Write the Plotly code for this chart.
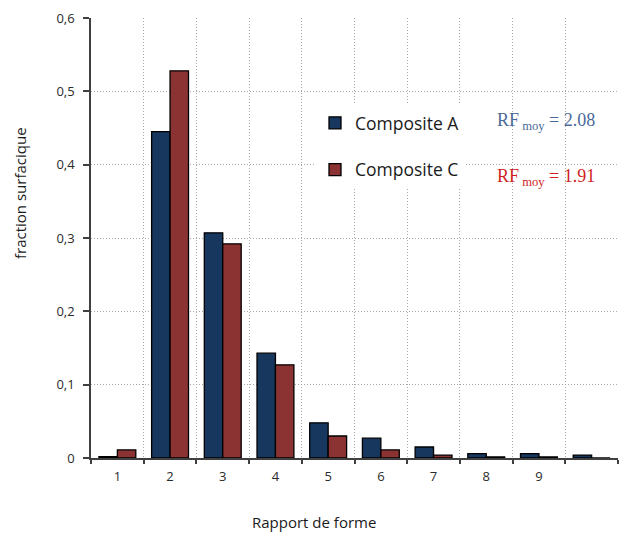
import plotly.graph_objects as go

# Aspect-ratio classes and surface fractions for both composites
categories = ["1", "2", "3", "4", "5", "6", "7", "8", "9", "10"]
tick_labels = ["1", "2", "3", "4", "5", "6", "7", "8", "9", ""]
composite_a = [0.002, 0.445, 0.307, 0.143, 0.048, 0.027, 0.015, 0.006, 0.006, 0.004]
composite_c = [0.011, 0.528, 0.292, 0.127, 0.030, 0.011, 0.004, 0.0015, 0.0015, 0.0]
y_ticks = [0, 0.1, 0.2, 0.3, 0.4, 0.5, 0.6]
y_tick_labels = ["0", "0,1", "0,2", "0,3", "0,4", "0,5", "0,6"]

W, H = 623, 534
L, R, T, B = 91, 5, 18, 76
PW, PH = W - L - R, H - T - B


def px_x(x):
    return (x - L) / PW


def px_y(y):
    return (H - B - y) / PH


fig = go.Figure()
fig.add_trace(go.Bar(
    x=categories, y=composite_a, name="Composite A",
    marker=dict(color="#17375E", line=dict(color="#000000", width=1.3)),
    legendgroup="a",
))
fig.add_trace(go.Bar(
    x=categories, y=composite_c, name="Composite C",
    marker=dict(color="#8B3333", line=dict(color="#000000", width=1.3)),
    legendgroup="c",
))

tick_font = dict(family="Open Sans", size=13, color="#2b2b2b")
grid_style = dict(showgrid=True, gridcolor="#a8a8a8", griddash="1px,2px", gridwidth=1)

fig.update_layout(
    width=W, height=H,
    margin=dict(l=L, r=R, t=T, b=B),
    paper_bgcolor="white", plot_bgcolor="white",
    barmode="group", bargap=0.3, bargroupgap=0,
    showlegend=True,
    legend=dict(
        x=px_x(315), y=px_y(105), xanchor="left", yanchor="top",
        bgcolor="white", borderwidth=0,
        font=dict(family="Open Sans", size=17.5, color="#1a1a1a"),
        traceorder="grouped", tracegroupgap=21,
    ),
    xaxis=dict(
        type="category", tickson="boundaries",
        tickvals=categories, ticktext=tick_labels,
        showline=True, linecolor="#404040", linewidth=1.5,
        ticks="outside", ticklen=4, tickcolor="#404040", tickwidth=1.5,
        tickfont=tick_font, ticklabelstandoff=6,
        range=[-0.5, 9.5], zeroline=False,
        **grid_style,
    ),
    yaxis=dict(
        range=[0, 0.6], tickvals=y_ticks, ticktext=y_tick_labels,
        showline=True, linecolor="#404040", linewidth=1.5,
        ticks="outside", ticklen=6, tickcolor="#404040", tickwidth=1.5,
        tickfont=tick_font, ticklabelstandoff=6,
        zeroline=False,
        **grid_style,
    ),
)

title_font = dict(family="Open Sans", size=15, color="#1a1a1a")
fig.add_annotation(
    text="fraction surfacique", textangle=-90, showarrow=False,
    xref="paper", yref="paper", x=px_x(20), y=px_y(193),
    xanchor="center", yanchor="middle", font=title_font,
)
fig.add_annotation(
    text="Rapport de forme", showarrow=False,
    xref="paper", yref="paper", x=px_x(314), y=px_y(522),
    xanchor="center", yanchor="middle", font=title_font,
)
fig.add_annotation(
    text="RF<sub> moy</sub> = 2.08", showarrow=False,
    xref="paper", yref="paper", x=px_x(495), y=px_y(122),
    xanchor="left", yanchor="middle",
    font=dict(family="Liberation Serif", size=18, color="#4A6A9A"),
)
fig.add_annotation(
    text="RF<sub> moy</sub> = 1.91", showarrow=False,
    xref="paper", yref="paper", x=px_x(495), y=px_y(177),
    xanchor="left", yanchor="middle",
    font=dict(family="Liberation Serif", size=18, color="#D01F1F"),
)

fig.write_html("out.html")
